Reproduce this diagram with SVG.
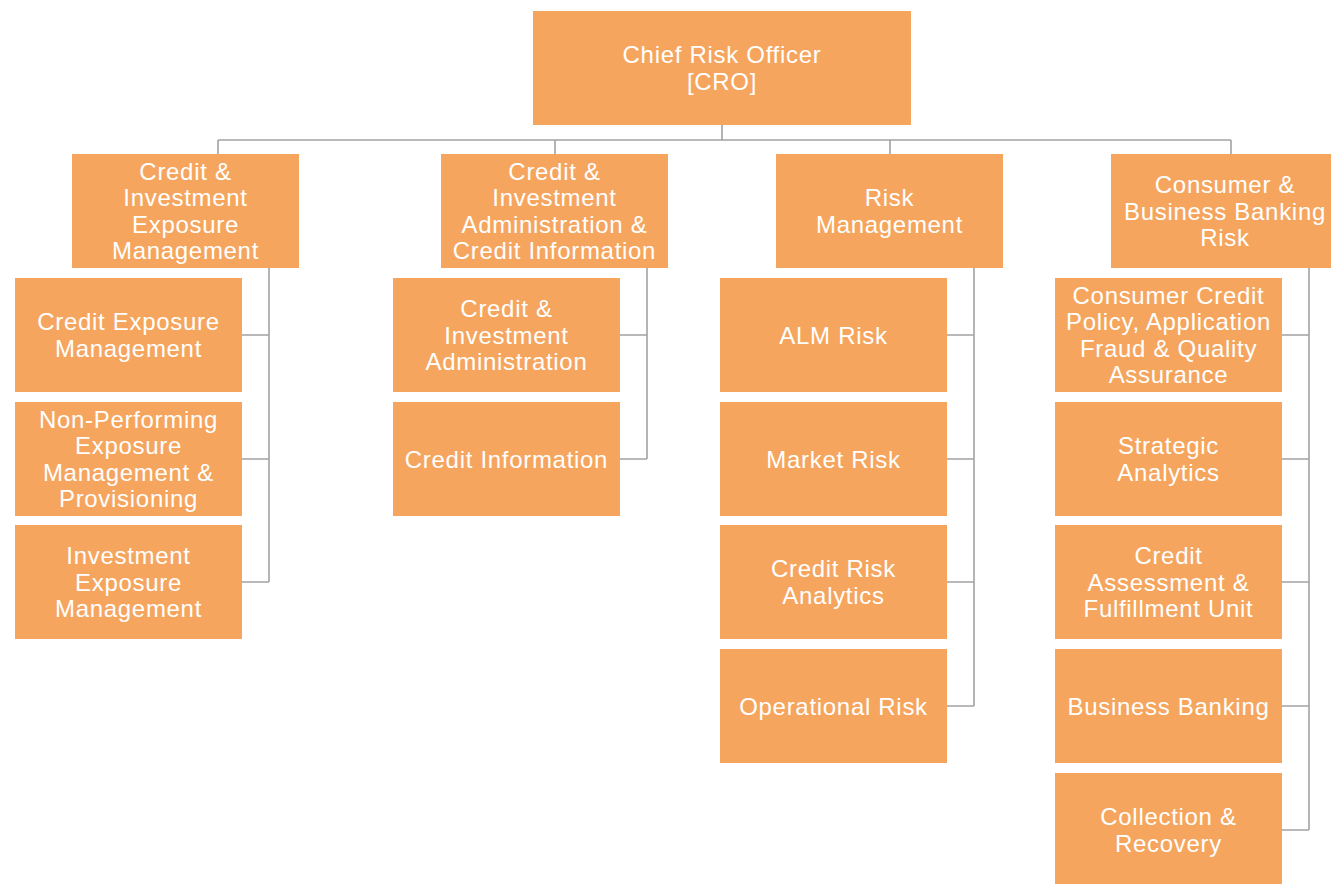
<svg xmlns="http://www.w3.org/2000/svg" width="1331" height="884" viewBox="0 0 1331 884">
  <style>
    .box { fill: #F6A55E; }
    .lbl { font-family: "Liberation Sans", Arial, Helvetica, sans-serif; font-size: 24px; fill: #ffffff; text-anchor: middle; letter-spacing: 0.7px; }
    .wire { fill: none; stroke: #a2a2a2; stroke-width: 1.6; }
  </style>
  <rect width="1331" height="884" fill="#ffffff"/>

  <!-- connectors -->
  <g id="connectors" class="wire">
    <path d="M722 125 V140 M218 140 H1231 M218 140 V154 M555 140 V154 M890 140 V154 M1231 140 V154"/>
    <path d="M269 268 V582 M242 335 H269 M242 459 H269 M242 582 H269"/>
    <path d="M647 268 V459 M620 335 H647 M620 459 H647"/>
    <path d="M974 268 V706 M947 335 H974 M947 459 H974 M947 582 H974 M947 706 H974"/>
    <path d="M1309 268 V830 M1282 335 H1309 M1282 459 H1309 M1282 582 H1309 M1282 706 H1309 M1282 830 H1309"/>
  </g>

  <!-- top -->
  <g id="cro">
    <rect class="box" x="533" y="11" width="378" height="114"/>
    <text class="lbl"><tspan x="722" y="63">Chief Risk Officer</tspan><tspan x="722" y="90">[CRO]</tspan></text>
  </g>

  <!-- departments -->
  <g id="ciem">
    <rect class="box" x="72" y="154" width="227" height="114"/>
    <text class="lbl"><tspan x="185.5" y="180">Credit &amp;</tspan><tspan x="185.5" y="206">Investment</tspan><tspan x="185.5" y="233">Exposure</tspan><tspan x="185.5" y="259">Management</tspan></text>
  </g>
  <g id="ciaci">
    <rect class="box" x="441" y="154" width="227" height="114"/>
    <text class="lbl"><tspan x="554.5" y="180">Credit &amp;</tspan><tspan x="554.5" y="206">Investment</tspan><tspan x="554.5" y="233">Administration &amp;</tspan><tspan x="554.5" y="259">Credit Information</tspan></text>
  </g>
  <g id="rm">
    <rect class="box" x="776" y="154" width="227" height="114"/>
    <text class="lbl"><tspan x="889.5" y="206">Risk</tspan><tspan x="889.5" y="233">Management</tspan></text>
  </g>
  <g id="cbbr">
    <rect class="box" x="1111" y="154" width="228" height="114"/>
    <text class="lbl"><tspan x="1225" y="193">Consumer &amp;</tspan><tspan x="1225" y="219.5">Business Banking</tspan><tspan x="1225" y="246">Risk</tspan></text>
  </g>

  <!-- units: column 1 -->
  <g id="cem">
    <rect class="box" x="15" y="278" width="227" height="114"/>
    <text class="lbl"><tspan x="128.5" y="330">Credit Exposure</tspan><tspan x="128.5" y="357">Management</tspan></text>
  </g>
  <g id="npemp">
    <rect class="box" x="15" y="402" width="227" height="114"/>
    <text class="lbl"><tspan x="128.5" y="428">Non-Performing</tspan><tspan x="128.5" y="454">Exposure</tspan><tspan x="128.5" y="481">Management &amp;</tspan><tspan x="128.5" y="507">Provisioning</tspan></text>
  </g>
  <g id="iem">
    <rect class="box" x="15" y="525" width="227" height="114"/>
    <text class="lbl"><tspan x="128.5" y="564">Investment</tspan><tspan x="128.5" y="590.5">Exposure</tspan><tspan x="128.5" y="617">Management</tspan></text>
  </g>

  <!-- units: column 2 -->
  <g id="cia">
    <rect class="box" x="393" y="278" width="227" height="114"/>
    <text class="lbl"><tspan x="506.5" y="317">Credit &amp;</tspan><tspan x="506.5" y="343.5">Investment</tspan><tspan x="506.5" y="370">Administration</tspan></text>
  </g>
  <g id="ci">
    <rect class="box" x="393" y="402" width="227" height="114"/>
    <text class="lbl"><tspan x="506.5" y="467.5">Credit Information</tspan></text>
  </g>

  <!-- units: column 3 -->
  <g id="alm">
    <rect class="box" x="720" y="278" width="227" height="114"/>
    <text class="lbl"><tspan x="833.5" y="343.5">ALM Risk</tspan></text>
  </g>
  <g id="market">
    <rect class="box" x="720" y="402" width="227" height="114"/>
    <text class="lbl"><tspan x="833.5" y="467.5">Market Risk</tspan></text>
  </g>
  <g id="cra">
    <rect class="box" x="720" y="525" width="227" height="114"/>
    <text class="lbl"><tspan x="833.5" y="577">Credit Risk</tspan><tspan x="833.5" y="604">Analytics</tspan></text>
  </g>
  <g id="oprisk">
    <rect class="box" x="720" y="649" width="227" height="114"/>
    <text class="lbl"><tspan x="833.5" y="714.5">Operational Risk</tspan></text>
  </g>

  <!-- units: column 4 -->
  <g id="ccp">
    <rect class="box" x="1055" y="278" width="227" height="114"/>
    <text class="lbl"><tspan x="1168.5" y="304">Consumer Credit</tspan><tspan x="1168.5" y="330">Policy, Application</tspan><tspan x="1168.5" y="357">Fraud &amp; Quality</tspan><tspan x="1168.5" y="383">Assurance</tspan></text>
  </g>
  <g id="sa">
    <rect class="box" x="1055" y="402" width="227" height="114"/>
    <text class="lbl"><tspan x="1168.5" y="454">Strategic</tspan><tspan x="1168.5" y="481">Analytics</tspan></text>
  </g>
  <g id="cafu">
    <rect class="box" x="1055" y="525" width="227" height="114"/>
    <text class="lbl"><tspan x="1168.5" y="564">Credit</tspan><tspan x="1168.5" y="590.5">Assessment &amp;</tspan><tspan x="1168.5" y="617">Fulfillment Unit</tspan></text>
  </g>
  <g id="bb">
    <rect class="box" x="1055" y="649" width="227" height="114"/>
    <text class="lbl"><tspan x="1168.5" y="714.5">Business Banking</tspan></text>
  </g>
  <g id="cr">
    <rect class="box" x="1055" y="773" width="227" height="114"/>
    <text class="lbl"><tspan x="1168.5" y="825">Collection &amp;</tspan><tspan x="1168.5" y="852">Recovery</tspan></text>
  </g>
</svg>
